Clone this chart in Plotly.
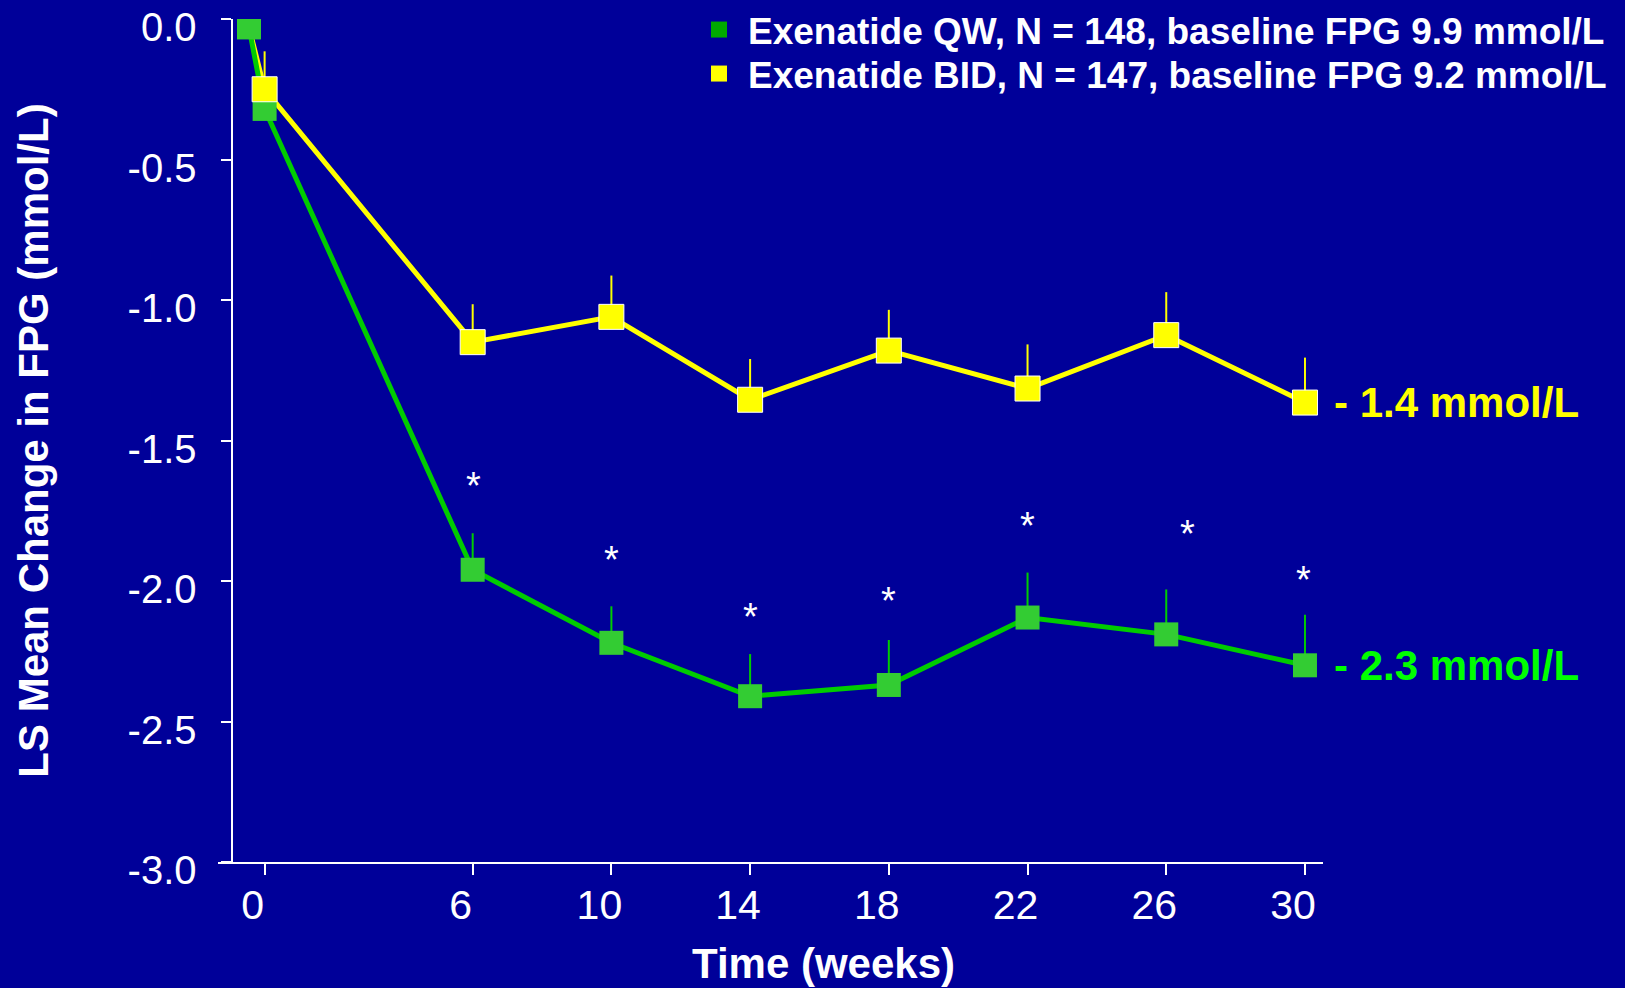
import plotly.graph_objects as go

# ---------------- data ----------------
weeks = [-0.45, 0, 6, 10, 14, 18, 22, 26, 30]
qw_mean = [-0.03, -0.32, -1.96, -2.22, -2.41, -2.37, -2.13, -2.19, -2.30]
qw_err = [0.0, 0.11, 0.13, 0.13, 0.15, 0.16, 0.16, 0.16, 0.18]
bid_mean = [-0.03, -0.25, -1.15, -1.06, -1.355, -1.18, -1.315, -1.125, -1.365]
bid_err = [0.0, 0.135, 0.135, 0.147, 0.145, 0.145, 0.157, 0.153, 0.16]

ast_weeks = [6.03, 10.0, 14.0, 17.99, 22.0, 26.6, 29.95]
ast_y = [-1.652, -1.916, -2.117, -2.059, -1.792, -1.821, -1.985]

x_tickvals = [0, 6, 10, 14, 18, 22, 26, 30]
x_ticktext = ["0", "6", "10", "14", "18", "22", "26", "30"]
y_tickvals = [0, -0.5, -1.0, -1.5, -2.0, -2.5, -3.0]
y_ticktext = ["0.0", "-0.5", "-1.0", "-1.5", "-2.0", "-2.5", "-3.0"]

qw_name = "Exenatide QW, N = 148, baseline FPG 9.9 mmol/L"
bid_name = "Exenatide BID, N = 147, baseline FPG 9.2 mmol/L"
qw_end_label = "- 2.3 mmol/L"
bid_end_label = "- 1.4 mmol/L"

# ---------------- styles ----------------
BG = "#000099"
GREEN_LINE = "#00CC00"
GREEN_MARK = "#33CC33"
GREEN_SWATCH = "#00AA00"
GREEN_TEXT = "#00FF00"
YELLOW = "#FFFF00"
FONT = "Liberation Sans, Arial, sans-serif"

fig = go.Figure()

# yellow connecting line (under the green series)
fig.add_trace(go.Scatter(
    x=weeks, y=bid_mean, mode="lines",
    line=dict(color=YELLOW, width=5), showlegend=False, hoverinfo="skip"))

# green series
fig.add_trace(go.Scatter(
    x=weeks, y=qw_mean, mode="lines+markers",
    line=dict(color=GREEN_LINE, width=5),
    marker=dict(symbol="square", size=24, color=GREEN_MARK, opacity=1),
    error_y=dict(type="data", symmetric=False, array=qw_err,
                 arrayminus=[0] * len(qw_err), color=GREEN_LINE,
                 thickness=2, width=0),
    showlegend=False))

# yellow markers (on top); the baseline one is hidden under the green square
fig.add_trace(go.Scatter(
    x=weeks, y=bid_mean, mode="markers",
    marker=dict(symbol="square", size=[0] + [25] * (len(weeks) - 1),
                color=YELLOW, opacity=1),
    error_y=dict(type="data", symmetric=False, array=bid_err,
                 arrayminus=[0] * len(bid_err), color=YELLOW,
                 thickness=2, width=0),
    showlegend=False))

# legend entries
fig.add_trace(go.Scatter(
    x=[None], y=[None], mode="markers", name="<b>" + qw_name + "</b>",
    marker=dict(symbol="square", size=16, color=GREEN_SWATCH), legend="legend"))
fig.add_trace(go.Scatter(
    x=[None], y=[None], mode="markers", name="<b>" + bid_name + "</b>",
    marker=dict(symbol="square", size=16, color=YELLOW), legend="legend2"))

annotations = []
for xw, yv in zip(ast_weeks, ast_y):
    annotations.append(dict(
        x=xw, y=yv, xref="x", yref="y", text="*", showarrow=False,
        font=dict(family=FONT, size=38, color="white"), yshift=-3))

annotations.append(dict(
    x=weeks[-1], y=bid_mean[-1], xref="x", yref="y", text="<b>" + bid_end_label + "</b>",
    showarrow=False, xanchor="left", xshift=27,
    font=dict(family=FONT, size=42, color=YELLOW)))
annotations.append(dict(
    x=weeks[-1], y=qw_mean[-1], xref="x", yref="y", text="<b>" + qw_end_label + "</b>",
    showarrow=False, xanchor="left", xshift=27,
    font=dict(family=FONT, size=42, color=GREEN_TEXT)))

# x axis title
annotations.append(dict(
    x=(823 - 218) / 1105, y=0, xref="paper", yref="paper", text="<b>Time (weeks)</b>",
    showarrow=False, xanchor="center", yanchor="top", yshift=-76,
    font=dict(family=FONT, size=42, color="white")))

legend_common = dict(
    font=dict(family=FONT, size=37, color="white"),
    bgcolor="rgba(0,0,0,0)", borderwidth=0, itemwidth=48,
    xanchor="left", yanchor="top", itemclick=False, itemdoubleclick=False)

fig.update_layout(
    width=1625, height=988,
    margin=dict(l=218, r=302, t=19, b=126, autoexpand=False),
    paper_bgcolor=BG, plot_bgcolor=BG,
    font=dict(family=FONT, color="white"),
    xaxis=dict(
        range=[-1.344, 30.52], showgrid=False, zeroline=False,
        showline=True, linecolor="white", linewidth=2,
        ticks="outside", ticklen=11, tickwidth=2, tickcolor="white",
        tickvals=x_tickvals, ticktext=x_ticktext,
        tickfont=dict(family=FONT, size=41, color="white"),
        ticklabelshift=-12, ticklabelstandoff=-5),
    yaxis=dict(
        range=[-3, 0], showgrid=False, zeroline=False,
        anchor="free", position=(231.5 - 218) / 1105,
        showline=True, linecolor="white", linewidth=2,
        ticks="outside", ticklen=10, tickwidth=2, tickcolor="white",
        tickvals=y_tickvals, ticktext=y_ticktext,
        tickfont=dict(family=FONT, size=40, color="white"),
        ticklabelshift=8, ticklabelstandoff=16, ticklabeloverflow="allow",
        title=dict(text="<b>LS Mean Change in FPG (mmol/L)</b>",
                   font=dict(family=FONT, size=42, color="white"), standoff=65)),
    legend=dict(x=(690 - 218) / 1105, y=1 + 20 / 843, **legend_common),
    legend2=dict(x=(690 - 218) / 1105, y=1 - 24 / 843, **legend_common),
    annotations=annotations,
    hovermode=False,
)

fig.write_html(
    "out.html",
    config={"displayModeBar": False},
    post_script="document.body.style.margin='0';document.body.style.background='" + BG + "';",
)
